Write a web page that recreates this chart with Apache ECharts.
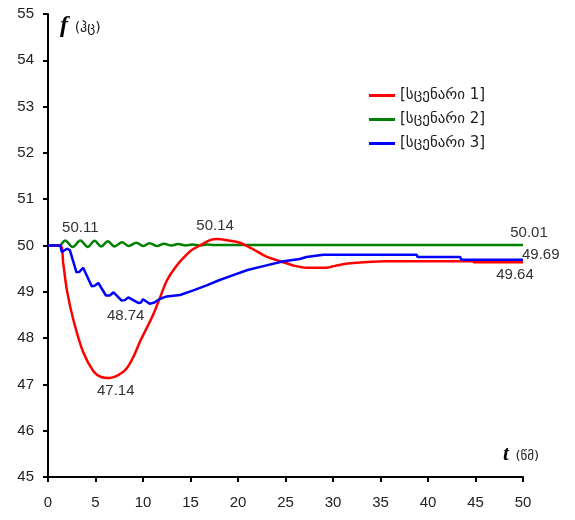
<!DOCTYPE html>
<html>
<head>
<meta charset="utf-8">
<script src="https://cdn.jsdelivr.net/npm/echarts@6/dist/echarts.min.js"></script>
<style>html,body{margin:0;padding:0;background:#fff}#c{width:575px;height:520px}</style>
</head>
<body>
<div id="c"></div>
<script>
// Series names
const seriesNames = ['[სცენარი 1]', '[სცენარი 2]', '[სცენარი 3]'];
// Axis tick values
const xTicks = [0, 5, 10, 15, 20, 25, 30, 35, 40, 45, 50];
const yTicks = [45, 46, 47, 48, 49, 50, 51, 52, 53, 54, 55];

// Scenario 1 (red): time (s)
const t1 = [0, 1.3, 1.6, 2.0, 2.7, 3.7, 4.8, 5.6, 6.5, 7.4, 8.3, 9.0, 9.7, 10.4, 11.1, 11.8, 12.5, 13.3, 14.2, 15.1, 16.0, 17.0, 17.8, 19.0, 20.2, 21.5, 23.0, 24.6, 26.0, 27.2, 29.3, 30.0, 30.7, 32.1, 35.5, 44.7, 44.8, 50];
const f1 = [50, 50, 49.62, 49.02, 48.37, 47.7, 47.28, 47.16, 47.14, 47.2, 47.35, 47.6, 47.93, 48.22, 48.52, 48.88, 49.24, 49.5, 49.72, 49.9, 50.0, 50.11, 50.14, 50.11, 50.06, 49.93, 49.76, 49.65, 49.56, 49.52, 49.52, 49.55, 49.58, 49.62, 49.66, 49.66, 49.64, 49.64];

// Scenario 2 (green)
const t2 = [0, 1.2, 1.8, 2.6, 3.4, 4.2, 4.9, 5.6, 6.3, 7.0, 7.8, 8.5, 9.3, 10.0, 10.7, 11.5, 12.2, 13.0, 13.7, 14.5, 15.2, 16.0, 16.7, 17.5, 50];
const f2 = [50, 50, 50.11, 49.97, 50.11, 49.97, 50.1, 49.98, 50.09, 49.98, 50.07, 49.99, 50.06, 49.99, 50.05, 49.99, 50.04, 50.0, 50.03, 50.0, 50.02, 50.0, 50.02, 50.01, 50.01];

// Scenario 3 (blue)
const t3 = [0, 1.3, 1.45, 1.6, 2.0, 2.3, 3.0, 3.3, 3.7, 4.6, 4.9, 5.3, 6.1, 6.5, 6.9, 7.75, 8.1, 8.45, 9.5, 9.8, 10.0, 10.7, 11.2, 11.8, 12.5, 13.9, 15.3, 16.7, 18.0, 19.5, 21.0, 23.0, 24.8, 26.5, 27.2, 29.0, 38.8, 38.9, 43.4, 43.5, 50];
const f3 = [50, 50, 49.86, 49.82, 49.93, 49.9, 49.42, 49.43, 49.52, 49.12, 49.13, 49.19, 48.92, 48.92, 48.99, 48.81, 48.82, 48.88, 48.76, 48.77, 48.84, 48.74, 48.77, 48.85, 48.9, 48.93, 49.03, 49.14, 49.25, 49.36, 49.47, 49.57, 49.66, 49.71, 49.75, 49.8, 49.8, 49.75, 49.75, 49.69, 49.69];

// Annotated points: [series index, time]
const annotations = [
  {s: 0, t: 6.5, pos: 'bottom', off: [6, 0]},
  {s: 0, t: 17.8, pos: 'top', off: [-2, -1]},
  {s: 0, t: 50, pos: 'bottom', off: [-8, 0]},
  {s: 1, t: 3.4, pos: 'top', off: [0, 0]},
  {s: 1, t: 50, pos: 'top', off: [6, 0]},
  {s: 2, t: 10.7, pos: 'bottom', off: [-24, 0]},
  {s: 2, t: 50, pos: 'right', off: [-6, -5]}
];

const ts = [t1, t2, t3], fs = [f1, f2, f3];
const colors = ['#ff0000', '#008000', '#0000ff'];
const smooth = [0.3, 0.35, false];

function build(i) {
  return ts[i].map((t, k) => {
    const a = annotations.find(a => a.s === i && a.t === t);
    const item = {value: [t, fs[i][k]]};
    if (a) {
      item.label = {
        show: true, position: a.pos, offset: a.off,
        formatter: p => p.value[1].toFixed(2),
        fontFamily: 'Liberation Sans', fontSize: 15, color: '#333'
      };
    }
    return item;
  });
}

const chart = echarts.init(document.getElementById('c'));
chart.setOption({
  animation: false,
  backgroundColor: '#fff',
  grid: {left: 48, right: 52, top: 14, bottom: 43},
  legend: {
    orient: 'vertical', left: 364, top: 83,
    icon: 'rect', itemWidth: 26, itemHeight: 3, itemGap: 9,
    textStyle: {fontFamily: 'DejaVu Sans', fontSize: 15, color: '#222'},
    data: seriesNames
  },
  xAxis: {
    type: 'value', min: xTicks[0], max: xTicks[xTicks.length - 1], interval: 5,
    splitLine: {show: false},
    axisLine: {lineStyle: {color: '#000', width: 2}},
    axisTick: {length: 5, lineStyle: {color: '#000', width: 2}},
    axisLabel: {margin: 18, fontFamily: 'Liberation Sans', fontSize: 15, color: '#222'},
    name: '{t|t}  {u|(წმ)}', nameLocation: 'end', nameGap: -20,
    nameTextStyle: {
      align: 'left', verticalAlign: 'bottom', padding: [0, 0, 12, 0],
      rich: {
        t: {fontFamily: 'Liberation Serif', fontStyle: 'italic', fontWeight: 'bold', fontSize: 21, color: '#000'},
        u: {fontFamily: 'DejaVu Sans', fontSize: 13, color: '#222', padding: [4, 0, 0, 0]}
      }
    }
  },
  yAxis: {
    type: 'value', min: yTicks[0], max: yTicks[yTicks.length - 1], interval: 1,
    splitLine: {show: false},
    axisLine: {show: true, lineStyle: {color: '#000', width: 2}},
    axisTick: {show: true, length: 5, lineStyle: {color: '#000', width: 2}},
    axisLabel: {margin: 14, fontFamily: 'Liberation Sans', fontSize: 15, color: '#222'},
    name: '{f|f}  {u|(ჰც)}', nameLocation: 'end', nameGap: -12,
    nameTextStyle: {
      align: 'left', verticalAlign: 'middle', padding: [0, 0, 0, 12],
      rich: {
        f: {fontFamily: 'Liberation Serif', fontStyle: 'italic', fontWeight: 'bold', fontSize: 24, color: '#000'},
        u: {fontFamily: 'DejaVu Sans', fontSize: 14, color: '#222', padding: [4, 0, 0, 0]}
      }
    }
  },
  series: [0, 1, 2].map(i => ({
    name: seriesNames[i], type: 'line', data: build(i),
    showSymbol: true, symbol: 'circle', symbolSize: 0, showAllSymbol: true,
    smooth: smooth[i],
    lineStyle: {color: colors[i], width: 2.5},
    itemStyle: {color: colors[i]},
    z: i === 0 ? 3 : (i === 2 ? 4 : 2)
  }))
});
</script>
</body>
</html>
